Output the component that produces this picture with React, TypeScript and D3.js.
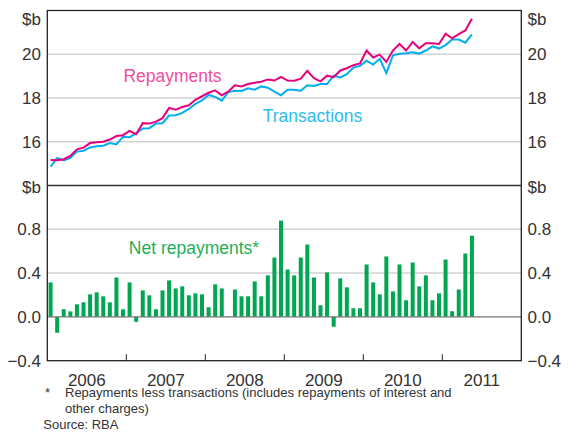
import React from "react";
import * as d3 from "d3";

// Monthly data, Jan 2006 – May 2011 ($b)
const startYear = 2006;
const yearLabels = ["2006", "2007", "2008", "2009", "2010", "2011"];

const repayments = [
  15.17, 15.15, 15.2, 15.35, 15.65, 15.73, 15.94, 15.98, 16.0, 16.1, 16.26, 16.3,
  16.5, 16.35, 16.85, 16.83, 16.92, 17.08, 17.55, 17.47, 17.59, 17.67, 17.92, 18.08,
  18.24, 18.35, 18.12, 18.3, 18.58, 18.53, 18.64, 18.7, 18.74, 18.85, 18.8, 18.97,
  18.8, 18.79, 18.88, 19.24, 18.91, 18.76, 19.02, 18.95, 19.26, 19.36, 19.5, 19.58,
  20.17, 19.85, 19.98, 19.65, 20.17, 20.47, 20.17, 20.56, 20.27, 20.5, 20.5, 20.47,
  20.94, 20.73, 20.92, 21.09, 21.62,
];

const transactions = [
  14.86, 15.26, 15.15, 15.26, 15.55, 15.59, 15.74, 15.79, 15.82, 15.94, 15.88, 16.23,
  16.21, 16.38, 16.61, 16.62, 16.83, 16.85, 17.2, 17.21, 17.32, 17.5, 17.73, 17.89,
  18.14, 18.05, 17.88, 18.27, 18.33, 18.32, 18.44, 18.38, 18.53, 18.47, 18.29, 18.12,
  18.38, 18.38, 18.33, 18.58, 18.55, 18.64, 18.64, 19.02, 18.94, 19.09, 19.39, 19.47,
  19.7, 19.53, 19.79, 19.14, 19.95, 20.02, 20.05, 20.09, 20.03, 20.17, 20.36, 20.26,
  20.42, 20.67, 20.67, 20.53, 20.91,
];

const netRepayments = [
  0.315, -0.145, 0.07, 0.05, 0.115, 0.133, 0.206, 0.224, 0.188, 0.133, 0.36, 0.07,
  0.315, -0.045, 0.242, 0.197, 0.07, 0.242, 0.333, 0.26, 0.279, 0.197, 0.215, 0.206,
  0.088, 0.297, 0.26, 0.005, 0.25, 0.188, 0.188, 0.324, 0.188, 0.379, 0.542, 0.879,
  0.433, 0.379, 0.542, 0.661, 0.36, 0.106, 0.406, -0.09, 0.352, 0.27, 0.079, 0.079,
  0.479, 0.315, 0.206, 0.552, 0.233, 0.479, 0.152, 0.497, 0.279, 0.379, 0.152, 0.215,
  0.524, 0.052, 0.25, 0.579, 0.742,
];

const topTicks = [16, 18, 20];
const bottomTicks = [-0.4, 0, 0.4, 0.8];
const footnoteLines = [
  "Repayments less transactions (includes repayments of interest and",
  "other charges)",
];
const sourceText = "Source: RBA";

const FONT = "'Liberation Sans', Arial, Helvetica, sans-serif";

export default function App() {
  const W = 568;
  const H = 438;
  const left = 47.3;
  const right = 521.3;
  const topY = 10.5;
  const midY = 185.5;
  const botY = 360.7;

  const x = d3.scaleLinear().domain([0, 72]).range([left, right]);
  const yTop = d3.scaleLinear().domain([14, 22]).range([midY, topY]);
  const yBot = d3.scaleLinear().domain([-0.4, 1.2]).range([botY, midY]);

  const lineTop = (vals: number[]) =>
    d3
      .line<number>()
      .x((_, i) => x(i + 0.5))
      .y((d) => yTop(d))(vals) as string;

  const barW = 4;
  const textColor = "#333";
  const fs = 17;

  const yearTicks = d3.range(1, 6).map((k) => k * 12);

  return (
    <svg
      width={W}
      height={H}
      style={{ position: "absolute", left: 0, top: 0, background: "#fff" }}
      fontFamily={FONT}
    >
      <rect x={0} y={0} width={W} height={H} fill="#fff" />
      {/* gridlines top */}
      {topTicks.map((t) => (
        <line
          key={"gt" + t}
          x1={left}
          x2={right}
          y1={yTop(t)}
          y2={yTop(t)}
          stroke="#d2d2d2"
          strokeWidth={1.5}
        />
      ))}
      {/* gridlines bottom */}
      {bottomTicks
        .filter((t) => t > 0)
        .map((t) => (
          <line
            key={"gb" + t}
            x1={left}
            x2={right}
            y1={yBot(t)}
            y2={yBot(t)}
            stroke="#d2d2d2"
            strokeWidth={1.5}
          />
        ))}

      {/* bars */}
      {netRepayments.map((v, i) => (
        <rect
          key={"b" + i}
          x={x(i + 0.5) - barW / 2}
          width={barW}
          y={v >= 0 ? yBot(v) : yBot(0)}
          height={Math.abs(yBot(v) - yBot(0))}
          fill="#00a651"
        />
      ))}
      <line
        x1={left}
        x2={right}
        y1={yBot(0)}
        y2={yBot(0)}
        stroke="#777"
        strokeWidth={1.4}
      />

      {/* lines */}
      <path d={lineTop(transactions)} fill="none" stroke="#00aeef" strokeWidth={2} />
      <path d={lineTop(repayments)} fill="none" stroke="#e6007e" strokeWidth={2} />

      {/* frame */}
      <rect
        x={left}
        y={topY}
        width={right - left}
        height={botY - topY}
        fill="none"
        stroke="#222"
        strokeWidth={1.3}
      />
      <line x1={left} x2={right} y1={midY} y2={midY} stroke="#333" strokeWidth={1.3} />

      {/* year ticks */}
      {yearTicks.map((m) => (
        <line
          key={"yt" + m}
          x1={x(m)}
          x2={x(m)}
          y1={botY}
          y2={botY - 6.5}
          stroke="#222"
          strokeWidth={1}
        />
      ))}
      {yearLabels.map((lab, k) => (
        <text
          key={"yl" + lab}
          x={x(k * 12 + 6)}
          y={385.5}
          textAnchor="middle"
          fontSize={fs}
          fill={textColor}
        >
          {lab}
        </text>
      ))}

      {/* y labels, top panel */}
      {[
        ...topTicks.map((t) => ({ y: yTop(t), s: String(t) })),
        { y: 19, s: "$b" },
      ].map((d, i) => (
        <g key={"tl" + i}>
          <text x={41} y={d.y} dy="0.36em" textAnchor="end" fontSize={fs} fill={textColor}>
            {d.s}
          </text>
          <text x={527.5} y={d.y} dy="0.36em" textAnchor="start" fontSize={fs} fill={textColor}>
            {d.s}
          </text>
        </g>
      ))}
      {/* y labels, bottom panel */}
      {[
        ...bottomTicks.map((t) => ({ y: yBot(t), s: d3.format(".1f")(t) })),
        { y: midY + 1.5, s: "$b" },
      ].map((d, i) => (
        <g key={"bl" + i}>
          <text x={41} y={d.y} dy="0.36em" textAnchor="end" fontSize={fs} fill={textColor}>
            {d.s}
          </text>
          <text x={527.5} y={d.y} dy="0.36em" textAnchor="start" fontSize={fs} fill={textColor}>
            {d.s}
          </text>
        </g>
      ))}

      {/* series labels */}
      <text x={172.5} y={81.7} textAnchor="middle" fontSize={17.5} fill="#ee4f9f">
        Repayments
      </text>
      <text x={312.5} y={122} textAnchor="middle" fontSize={17.5} fill="#2cbcf0">
        Transactions
      </text>
      <text x={194} y={254} textAnchor="middle" fontSize={17.5} fill="#1fae5a">
        Net repayments*
      </text>

      {/* footnotes */}
      <text x={45} y={397} fontSize={13} fill={textColor}>
        *
      </text>
      {footnoteLines.map((l, i) => (
        <text key={"fn" + i} x={65} y={396.7 + i * 16.5} fontSize={13} fill={textColor}>
          {l}
        </text>
      ))}
      <text x={43.3} y={429.3} fontSize={13} fill={textColor}>
        {sourceText}
      </text>
    </svg>
  );
}
